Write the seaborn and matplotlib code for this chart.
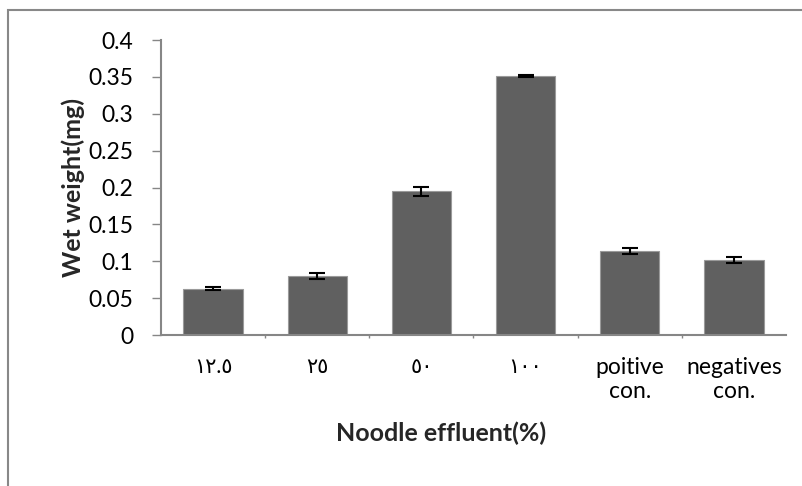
import matplotlib
matplotlib.use("Agg")
import matplotlib.pyplot as plt
import seaborn as sns
import pandas as pd
from matplotlib.patches import Rectangle
from matplotlib.transforms import Bbox

categories = ["١٢.٥", "٢٥", "٥٠", "١٠٠", "poitive\ncon.", "negatives\ncon."]
values = [0.063, 0.0795, 0.195, 0.351, 0.114, 0.102]
errors = [0.002, 0.004, 0.006, 0.001, 0.004, 0.004]
yticks = [0, 0.05, 0.1, 0.15, 0.2, 0.25, 0.3, 0.35, 0.4]
ytick_labels = ["0", "0.05", "0.1", "0.15", "0.2", "0.25", "0.3", "0.35", "0.4"]

sns.set_theme(style="white")
plt.rcParams['font.family'] = ['Lato', 'DejaVu Sans']

fig = plt.figure(figsize=(8.03, 4.86), dpi=100)
ax = fig.add_axes([161 / 803, 1 - 335 / 486, 625 / 803, 295 / 486])

df = pd.DataFrame({"cat": categories, "val": values})
sns.barplot(data=df, x="cat", y="val", ax=ax, color="#606060", saturation=1,
            width=0.57, edgecolor="#9a9a9a", linewidth=0.8, errorbar=None)
ax.errorbar(range(len(categories)), values, yerr=errors, fmt="none",
            ecolor="black", elinewidth=1.5, capsize=5.5, capthick=1.5)

ax.set_xlim(-0.5, len(categories) - 0.5)
ax.set_ylim(0, 0.4)
ax.set_yticks(yticks)
ax.set_yticklabels(ytick_labels, fontsize=16.5, color="black")
ax.set_xticks(range(len(categories)))
ax.set_xticklabels(categories, fontsize=16.5, color="black", linespacing=1.15)
ax.tick_params(axis="x", length=0, pad=16)
ax.tick_params(axis="y", length=6.5, width=1, color="#868686", left=True, pad=13.5)
ax.set_xticks([i + 0.5 for i in range(len(categories) - 1)], minor=True)
ax.tick_params(axis="x", which="minor", length=2, color="#868686", bottom=True, direction="out")

clip = Bbox.from_extents(0, 0, 784, 486)
for i, lab in enumerate(ax.get_xticklabels()):
    lab.set_clip_on(True)
    lab.set_clip_box(clip)
    if i < 4:
        lab.set_fontsize(15)

for s in ["top", "right"]:
    ax.spines[s].set_visible(False)
for s in ["left", "bottom"]:
    ax.spines[s].set_color("#868686")
    ax.spines[s].set_linewidth(1.5)

ax.set_xlabel("Noodle effluent(%)", fontsize=18, fontweight="bold")
ax.set_ylabel("Wet weight(mg)", fontsize=18, fontweight="bold")
ax.xaxis.set_label_coords(0.448, -0.295)
ax.yaxis.set_label_coords(-0.122, 0.5)

fig.patches.append(Rectangle((8 / 803, -0.1), 1.2, 1 - 10 / 486 + 0.1,
                             transform=fig.transFigure, fill=False,
                             edgecolor="#888888", linewidth=1.5))

fig.savefig("out.png", dpi=100)
